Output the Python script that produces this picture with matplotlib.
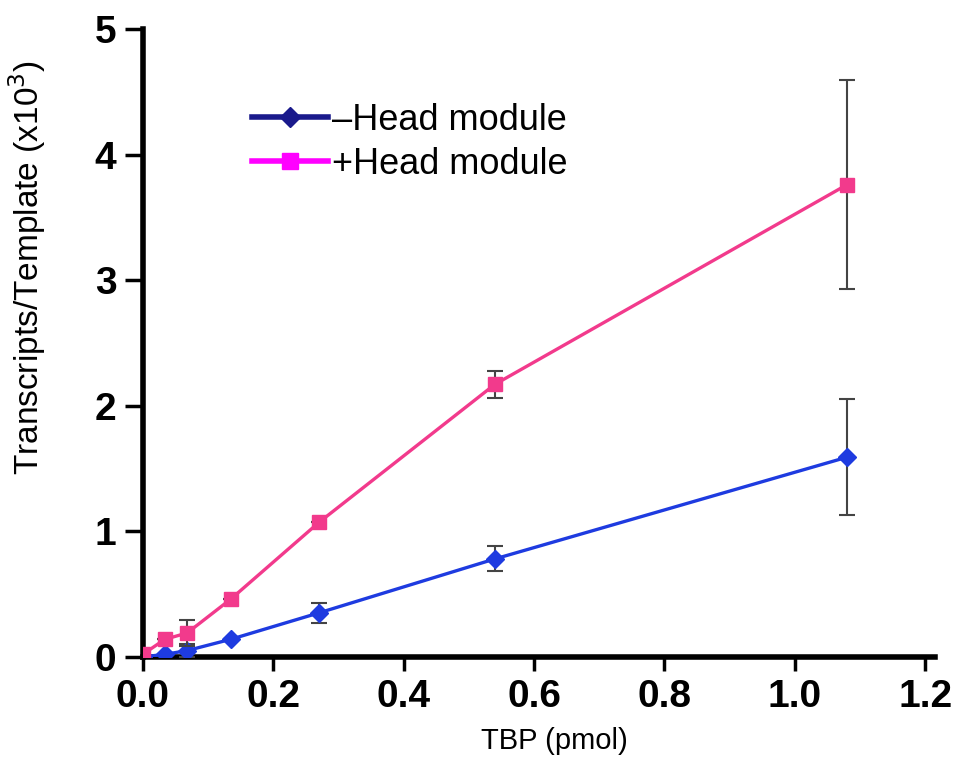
import matplotlib
matplotlib.use('Agg')
import matplotlib.pyplot as plt
from matplotlib.lines import Line2D

plt.rcParams['font.family'] = ['Liberation Sans', 'DejaVu Sans']

# ─── Data ────────────────────────────────────────────────────────────────
tbp = [0.0, 0.034, 0.068, 0.135, 0.27, 0.54, 1.08]
minus_head = [0.0, 0.02, 0.05, 0.14, 0.35, 0.78, 1.59]
minus_err = [0.0, 0.0, 0.05, 0.0, 0.08, 0.10, 0.46]
plus_head = [0.02, 0.14, 0.19, 0.46, 1.07, 2.17, 3.76]
plus_err = [0.0, 0.0, 0.10, 0.0, 0.0, 0.11, 0.83]

blue = '#1e3be0'
pink = '#f23a8c'

fig = plt.figure(figsize=(9.71, 7.82), dpi=100)
ax = fig.add_axes([0.147, 0.16, 0.816, 0.803])

ax.errorbar(tbp, minus_head, yerr=minus_err, color=blue, lw=2.4, marker='D',
            ms=9, ecolor='#444444', elinewidth=1.5, capsize=6, capthick=1.5,
            zorder=3)
ax.errorbar(tbp, plus_head, yerr=plus_err, color=pink, lw=2.4, marker='s',
            ms=10, ecolor='#444444', elinewidth=1.5, capsize=6, capthick=1.5,
            zorder=4)

ax.set_xlim(0, 1.215)
ax.set_ylim(0, 5)
ax.set_xticks([0.0, 0.2, 0.4, 0.6, 0.8, 1.0, 1.2])
ax.set_xticklabels(['0.0', '0.2', '0.4', '0.6', '0.8', '1.0', '1.2'])
ax.set_yticks([0, 1, 2, 3, 4, 5])

for s in ['top', 'right']:
    ax.spines[s].set_visible(False)
for s in ['left', 'bottom']:
    ax.spines[s].set_linewidth(4)
ax.tick_params(axis='y', direction='out', length=13, width=2.5,
               labelsize=28, pad=6)
ax.tick_params(axis='x', direction='out', length=10, width=2.5,
               labelsize=28, pad=6)
for lab in ax.get_xticklabels() + ax.get_yticklabels():
    lab.set_fontweight('bold')

ax.set_xlabel('TBP (pmol)', fontsize=21)
ax.set_ylabel('Transcripts/Template (x10$^3$)', fontsize=24,
              family=['Liberation Sans Narrow', 'Liberation Sans'])
ax.xaxis.set_label_coords(0.52, -0.111)
ax.yaxis.set_label_coords(-0.12, 0.62)

handles = [
    Line2D([], [], color='#1a1a8c', lw=4, marker='D', ms=10,
           label='\u2013Head module'),
    Line2D([], [], color='#ff00ff', lw=4, marker='s', ms=11,
           label='+Head module'),
]
ax.legend(handles=handles, loc='upper left', bbox_to_anchor=(0.12, 0.905),
          frameon=False, fontsize=26, handlelength=2.1, handletextpad=0.1,
          labelspacing=0.25, borderaxespad=0)

fig.savefig('out.png', dpi=100, facecolor='white')
